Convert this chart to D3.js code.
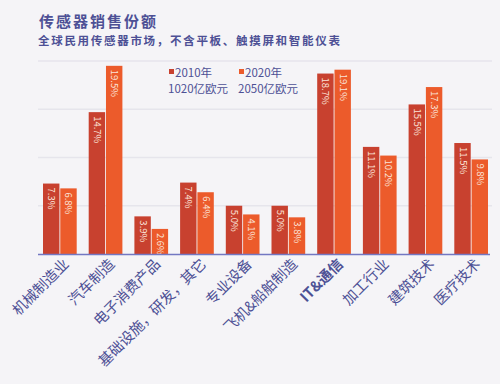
<!DOCTYPE html>
<html>
<head>
<meta charset="utf-8">
<script src="https://cdn.jsdelivr.net/npm/d3@7"></script>
<style>
  body { margin: 0; background: #f5f4f7; }
  svg { display: block; }
  text { font-family: "Noto Sans CJK SC", "DejaVu Serif", sans-serif; }
</style>
</head>
<body>
<div id="chart"></div>
<script>
var categories = ["机械制造业", "汽车制造", "电子消费产品", "基础设施，研发，其它", "专业设备",
                  "飞机&船舶制造", "IT&通信", "加工行业", "建筑技术", "医疗技术"];
var series = ["2010年", "2020年"];
var seriesTotals = ["1020亿欧元", "2050亿欧元"];
var values2010 = [7.3, 14.7, 3.9, 7.4, 5.0, 5.0, 18.7, 11.1, 15.5, 11.5];
var values2020 = [6.8, 19.5, 2.6, 6.4, 4.1, 3.8, 19.1, 10.2, 17.3, 9.8];
var gridTicks = [5, 10, 15, 20];

var width = 500, height = 384;
var colors = ["#c8412f", "#ec5b2b"];
var textColor = "#4d5095";

var svg = d3.select("#chart").append("svg")
    .attr("width", width)
    .attr("height", height);

svg.append("rect")
    .attr("width", width)
    .attr("height", height)
    .style("fill", "#f5f4f7");

// Titles
svg.append("text")
    .attr("x", 39)
    .attr("y", 27)
    .style("font-size", "15px")
    .style("letter-spacing", "2px")
    .style("font-weight", "bold")
    .style("fill", textColor)
    .text("传感器销售份额");

svg.append("text")
    .attr("x", 38)
    .attr("y", 45)
    .style("font-size", "11.5px")
    .style("letter-spacing", "1.7px")
    .style("font-weight", "bold")
    .style("fill", textColor)
    .text("全球民用传感器市场，不含平板、触摸屏和智能仪表");

// Scales
var x0 = d3.scaleBand()
    .domain(categories)
    .range([37, 494]);

var x1 = d3.scaleBand()
    .domain(series)
    .range([6, x0.bandwidth() - 6])
    .paddingInner(0.05);

var y = d3.scaleLinear()
    .domain([0, 20])
    .range([254, 61]);

// Faint gridlines
svg.append("g")
    .selectAll("line")
    .data(gridTicks)
    .enter().append("line")
    .attr("x1", 38)
    .attr("x2", 492)
    .attr("y1", function(d) { return y(d); })
    .attr("y2", function(d) { return y(d); })
    .style("stroke", "#e6e5ec")
    .style("stroke-width", 1.5);

// Bars
var rows = categories.map(function(c, i) {
  return [
    { cat: c, s: series[0], v: values2010[i] },
    { cat: c, s: series[1], v: values2020[i] }
  ];
});

var group = svg.append("g").selectAll(".grp")
    .data(rows)
    .enter().append("g")
    .attr("class", "grp")
    .attr("transform", function(d) { return "translate(" + x0(d[0].cat) + ",0)"; });

group.selectAll("rect")
    .data(function(d) { return d; })
    .enter().append("rect")
    .attr("x", function(d) { return x1(d.s); })
    .attr("y", function(d) { return y(d.v); })
    .attr("width", x1.bandwidth())
    .attr("height", function(d) { return y(0) - y(d.v); })
    .style("fill", function(d, i) { return colors[i]; });

// Value labels inside bars
var fmt = d3.format(".1f");
group.selectAll(".val")
    .data(function(d) { return d; })
    .enter().append("text")
    .attr("class", "val")
    .attr("transform", function(d) {
      return "translate(" + (x1(d.s) + x1.bandwidth() / 2 - 3) + "," + (y(d.v) + 4) + ") rotate(90)";
    })
    .style("font-size", "9.5px")
    .style("fill", "#fbe3d8")
    .text(function(d) { return fmt(d.v) + "%"; });

// Axis line
svg.append("line")
    .attr("x1", 38)
    .attr("x2", 490)
    .attr("y1", y(0) + 0.5)
    .attr("y2", y(0) + 0.5)
    .style("stroke", "#7377c2")
    .style("stroke-width", 1.5);

// Category labels
svg.append("g").selectAll(".cat")
    .data(categories)
    .enter().append("text")
    .attr("class", "cat")
    .attr("transform", function(d) {
      return "translate(" + (x0(d) + x0.bandwidth() / 2 + 10) + "," + 265 + ") rotate(-45)";
    })
    .attr("text-anchor", "end")
    .style("font-size", "14.5px")
    .style("fill", textColor)
    .style("font-weight", function(d) { return d === "IT&通信" ? "bold" : "normal"; })
    .text(function(d) { return d; });

// Legend
var legendX = [169, 239];
var legend = svg.append("g").selectAll(".leg")
    .data(series)
    .enter().append("g")
    .attr("class", "leg")
    .attr("transform", function(d, i) { return "translate(" + legendX[i] + ",0)"; });

legend.append("rect")
    .attr("x", 0)
    .attr("y", 69)
    .attr("width", 5)
    .attr("height", 5)
    .style("fill", function(d, i) { return colors[i]; });

legend.append("text")
    .attr("x", 6)
    .attr("y", 77)
    .style("font-size", "11.5px")
    .style("fill", textColor)
    .text(function(d) { return d; });

legend.append("text")
    .attr("x", -1)
    .attr("y", 93)
    .style("font-size", "11.5px")
    .style("fill", textColor)
    .text(function(d, i) { return seriesTotals[i]; });
</script>
</body>
</html>
